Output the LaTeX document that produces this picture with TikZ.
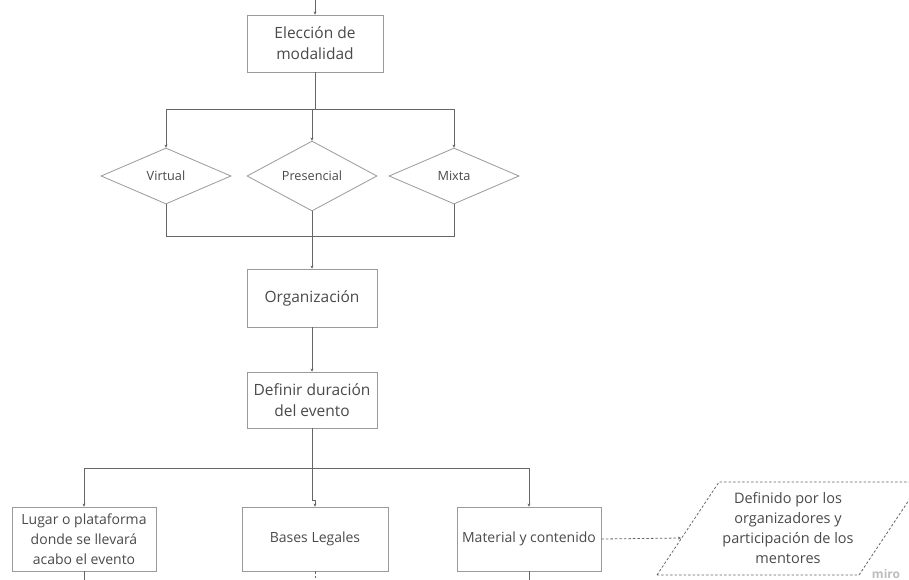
\documentclass[tikz,border=0pt]{standalone}
\usepackage{fontspec}
\setmainfont{Open Sans}
\usetikzlibrary{shapes.geometric,arrows.meta}
\definecolor{txt}{HTML}{4A4A4A}
\definecolor{boxc}{HTML}{9A9A9A}
\definecolor{linec}{HTML}{666666}
\definecolor{miroc}{HTML}{BDBDBD}
\begin{document}
\begin{tikzpicture}[x=1pt,y=-1pt,
  box/.style={draw=boxc,line width=0.8pt,rectangle,align=center,text=txt,inner sep=0pt},
  topbox/.style={box,font=\fontsize{15.5}{21}\selectfont},
  lowbox/.style={box,font=\fontsize{14}{20}\selectfont,minimum width=144,minimum height=64},
  choice/.style={draw=boxc,line width=0.8pt,shape=diamond,inner sep=0pt,minimum width=130,minimum height=56,text=txt,font=\fontsize{12.7}{15}\selectfont},
  conn/.style={draw=linec,line width=0.8pt,-{Stealth[length=3pt,width=3pt]}},
  plain/.style={draw=linec,line width=0.8pt},
  dashc/.style={draw=linec,line width=0.8pt,dashed,dash pattern=on 2.5pt off 2pt}]
\useasboundingbox (0,0) rectangle (909,580);
\fill[white] (0,0) rectangle (909,580);

% nodes
\node[topbox,minimum width=136,minimum height=57] (elec) at (315,43.5) {Elección de\\modalidad};
\node[choice] (virt) at (166,176) {Virtual};
\node[choice] (pres) at (312,176) {Presencial};
\node[choice] (mix) at (454,176) {Mixta};
\node[topbox,minimum width=130,minimum height=58] (org) at (312,298) {Organización};
\node[topbox,minimum width=130,minimum height=56] (def) at (312,400) {Definir duración\\del evento};
\node[lowbox] (lugar) at (84,539) {Lugar o plataforma\\donde se llevará\\acabo el evento};
\node[lowbox,minimum width=146] (bases) at (315,539) {Bases Legales};
\node[lowbox] (mat) at (529,539) {Material y contenido};

% parallelogram (runs off the right edge)
\begin{scope}
\clip (0,0) rectangle (909,580);
\draw[dashc] (657,575) -- (719,482) -- (921,482) -- (859,575) -- cycle;
\end{scope}
\coordinate (paraL) at (681,538);
\node[align=center,text=txt,font=\fontsize{14.5}{20}\selectfont] (para) at (788,528) {Definido por los\\organizadores y\\participación de los\\mentores};
\node[text=miroc,font=\fontsize{12}{12}\selectfont\bfseries,anchor=base,inner sep=0pt] (miro) at (886,578) {miro};

% connectors
\coordinate (topin) at (315,0);
\draw[conn] (topin) -- (elec.north);
\draw[plain] (elec.south) -- ++(0,37) coordinate (s1);
\draw[conn] (s1) -| (virt.north);
\draw[conn] (s1) -| (pres.north);
\draw[conn] (s1) -| (mix.south |- s1) -- (mix.north);
\draw[plain] (virt.south) -- ++(0,32) coordinate (j1) -- (mix.south |- j1) -- (mix.south);
\draw[conn] (pres.south) -- (org.north);
\draw[conn] (org.south) -- (def.north);
\draw[plain] (def.south) -- ++(0,40) coordinate (s2);
\draw[conn] (s2) -| (lugar.north);
\draw[conn] (s2) -| (mat.north);
\draw[conn] (def.south) -- ++(0,72) -| (bases.north);
\draw[dashc,-{Stealth[length=3pt,width=3pt]}] (mat.east) -- (paraL);

% exits at the bottom edge
\coordinate (e1) at (lugar.south |- 0,580);
\coordinate (e2) at (bases.south |- 0,580);
\coordinate (e3) at (mat.south |- 0,580);
\draw[plain] (lugar.south) -- (e1);
\draw[dashc] (bases.south) -- (e2);
\draw[plain] (mat.south) -- (e3);
\end{tikzpicture}
\end{document}
